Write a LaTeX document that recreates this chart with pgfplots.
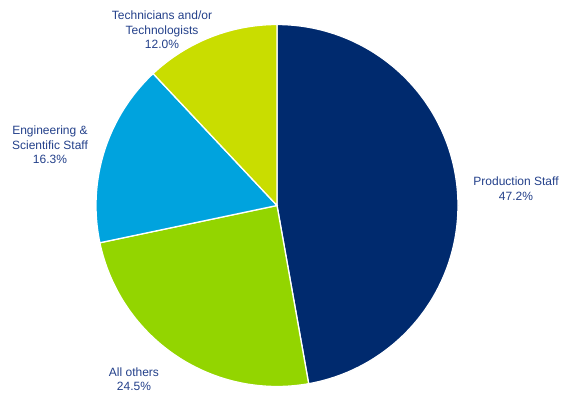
\documentclass[border=0pt]{standalone}
\usepackage{pgfplots}
\usepackage{pgfplotstable}
\pgfplotsset{compat=1.18}
\usepackage{fontspec}
\setmainfont{Liberation Sans}
\definecolor{cProd}{HTML}{002A6E}
\definecolor{cOther}{HTML}{93D500}
\definecolor{cEng}{HTML}{00A3DE}
\definecolor{cTech}{HTML}{C9DD00}
\definecolor{cText}{HTML}{23408A}
\pgfplotstableread{
label share
Production 47.2
Others 24.5
Engineering 16.3
Technicians 12.0
}\piedata
\begin{document}
\begin{tikzpicture}
\pgfplotstablegetelem{0}{share}\of\piedata \let\sA\pgfplotsretval
\pgfplotstablegetelem{1}{share}\of\piedata \let\sB\pgfplotsretval
\pgfplotstablegetelem{2}{share}\of\piedata \let\sC\pgfplotsretval
\pgfplotstablegetelem{3}{share}\of\piedata \let\sD\pgfplotsretval
\pgfmathsetmacro{\aA}{90}
\pgfmathsetmacro{\aB}{\aA-3.6*\sA}
\pgfmathsetmacro{\aC}{\aB-3.6*\sB}
\pgfmathsetmacro{\aD}{\aC-3.6*\sC}
\pgfmathsetmacro{\aE}{\aD-3.6*\sD}
\def\cx{277}\def\cy{187.5}\def\r{181}
\begin{axis}[x=1bp,y=1bp,xmin=0,xmax=566,ymin=0,ymax=393,
  hide axis, clip=false, scale only axis]
\path (axis cs:0,0) rectangle (axis cs:566,393);
\addplot[fill=cProd, draw=white, line width=1.3pt, domain=\aB:\aA, samples=120, variable=\t] ({\cx+\r*cos(\t)},{\cy+\r*sin(\t)}) -- (axis cs:\cx,\cy) -- cycle;
\addplot[fill=cOther, draw=white, line width=1.3pt, domain=\aC:\aB, samples=80, variable=\t] ({\cx+\r*cos(\t)},{\cy+\r*sin(\t)}) -- (axis cs:\cx,\cy) -- cycle;
\addplot[fill=cEng, draw=white, line width=1.3pt, domain=\aD:\aC, samples=60, variable=\t] ({\cx+\r*cos(\t)},{\cy+\r*sin(\t)}) -- (axis cs:\cx,\cy) -- cycle;
\addplot[fill=cTech, draw=white, line width=1.3pt, domain=\aE:\aD, samples=50, variable=\t] ({\cx+\r*cos(\t)},{\cy+\r*sin(\t)}) -- (axis cs:\cx,\cy) -- cycle;
\begin{scope}[every node/.style={align=center, text=cText, font=\fontsize{12bp}{14.5bp}\selectfont, inner sep=0pt}]
\node at (axis cs:516,204.5) {Production Staff\\47.2\%};
\node at (axis cs:134,14) {All others\\24.5\%};
\node at (axis cs:50,248) {Engineering \&\\Scientific Staff\\16.3\%};
\node at (axis cs:162,363) {Technicians and/or\\Technologists\\12.0\%};
\end{scope}
\end{axis}
\end{tikzpicture}
\end{document}
